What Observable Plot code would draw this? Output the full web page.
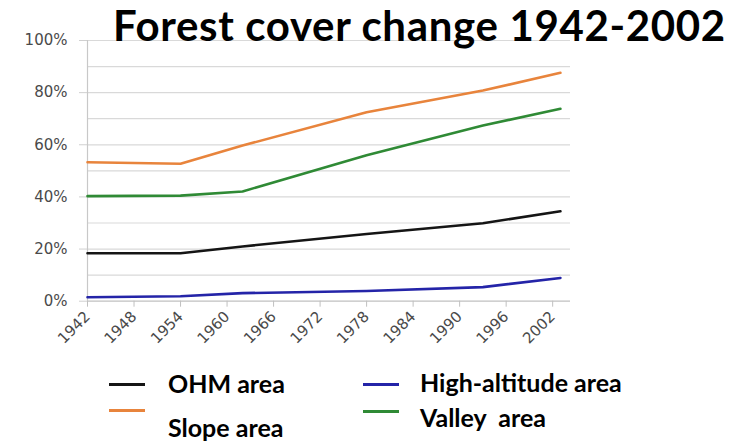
<!DOCTYPE html>
<html>
<head>
<meta charset="utf-8">
<script src="https://cdn.jsdelivr.net/npm/d3@7"></script>
<script src="https://cdn.jsdelivr.net/npm/@observablehq/plot@0.6"></script>
<style>
  html, body { margin: 0; padding: 0; background: #fff; }
  #wrap { position: relative; width: 744px; height: 447px; overflow: hidden; background: #fff; }
  .t { position: absolute; font-family: Lato, "Open Sans", sans-serif; font-weight: 700; color: #000; white-space: pre; line-height: 1; }
  .sw { position: absolute; height: 3px; }
  #chart { position: absolute; left: 0; top: 0; }
</style>
</head>
<body>
<div id="wrap">
  <div id="chart"></div>
</div>
<script>
// ---- data ----
const years = [1942, 1954, 1962, 1978, 1993, 2003];
const ohm = [18.4, 18.4, 21.0, 25.8, 29.9, 34.5];
const slope = [53.3, 52.7, 59.7, 72.5, 80.8, 87.6];
const highAltitude = [1.5, 1.9, 3.1, 3.9, 5.4, 8.9];
const valley = [40.3, 40.5, 42.1, 56.0, 67.4, 73.8];
const seriesNames = ["OHM area", "Slope area", "High-altitude area", "Valley  area"];
const seriesColors = ["#151515", "#e8843c", "#2424a8", "#2f8a35"];
const tickYears = [1942, 1948, 1954, 1960, 1966, 1972, 1978, 1984, 1990, 1996, 2002];
const yTicks = [0, 20, 40, 60, 80, 100];
const yGrid = [10, 20, 30, 40, 50, 60, 70, 80, 90, 100];
const title = "Forest cover change 1942-2002";

const seriesValues = [ohm, slope, highAltitude, valley];
const rows = [];
seriesNames.forEach((name, i) => {
  years.forEach((yr, j) => rows.push({series: name, year: yr, value: seriesValues[i][j]}));
});

const chart = Plot.plot({
  width: 744,
  height: 360,
  marginLeft: 87,
  marginRight: 174,
  marginTop: 40,
  marginBottom: 59.3,
  style: {fontFamily: "'DejaVu Sans', Verdana, sans-serif", fontSize: "15px", color: "#454545", background: "transparent"},
  x: {domain: [1942, 2004.3]},
  y: {domain: [0, 100]},
  color: {domain: seriesNames, range: seriesColors},
  marks: [
    Plot.ruleY(yGrid, {stroke: "#d9d9d9", strokeWidth: 1.2}),
    Plot.axisY(yTicks, {tickSize: 8, tickPadding: 12, tickFormat: d => d + "%", stroke: "#d0d0d0", fill: "#4a4a4a", label: null}),
    Plot.ruleX([1942], {stroke: "#c8c8c8", strokeWidth: 1.2}),
    Plot.ruleY([0], {stroke: "#c0c0c0", strokeWidth: 1.2}),
    Plot.axisX(tickYears, {tickSize: 6, tickPadding: 7, tickRotate: -45, tickFormat: d => String(d), stroke: "#c0c0c0", fill: "#4a4a4a", label: null}),
    Plot.line(rows, {x: "year", y: "value", z: "series", stroke: "series", strokeWidth: 2.6, curve: "linear"})
  ]
});
document.getElementById("chart").appendChild(chart);

// ---- title and legend (HTML, outside the SVG) ----
const wrap = document.getElementById("wrap");
function addText(txt, left, top, size, lh, ls) {
  const d = document.createElement("div");
  d.className = "t";
  d.textContent = txt;
  d.style.left = left + "px";
  d.style.top = top + "px";
  d.style.fontSize = size + "px";
  if (lh) d.style.lineHeight = lh;
  if (ls) d.style.letterSpacing = ls + "px";
  wrap.appendChild(d);
}
function addSwatch(color, left, top, w) {
  const s = document.createElement("div");
  s.className = "sw";
  s.style.background = color;
  s.style.left = left + "px";
  s.style.top = top + "px";
  s.style.width = w + "px";
  wrap.appendChild(s);
}
addText(title, 113, 0, 42, "normal", 0.65);
// legend
addSwatch(seriesColors[0], 109, 382.5, 36);
addSwatch(seriesColors[1], 109, 409, 36);
addSwatch(seriesColors[2], 363, 382.5, 36);
addSwatch(seriesColors[3], 363, 409.5, 36);
addText(seriesNames[0], 168, 370.5, 25);
addText(seriesNames[1], 168, 414.5, 25);
addText(seriesNames[2], 420, 369.5, 25);
addText(seriesNames[3], 420, 405, 25);
</script>
</body>
</html>
